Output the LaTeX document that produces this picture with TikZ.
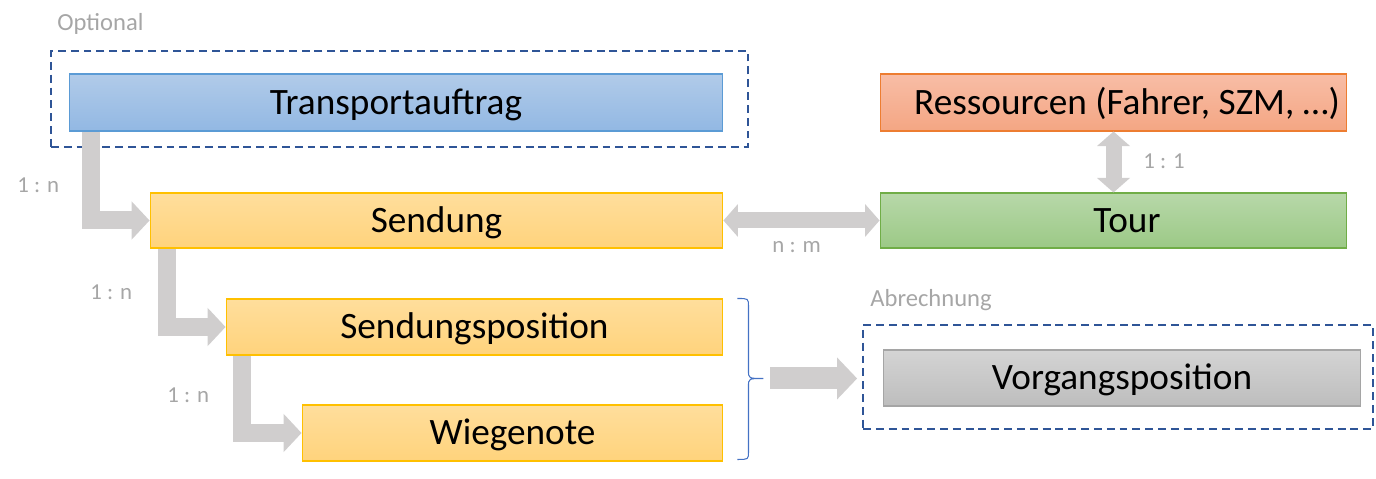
\documentclass[tikz,border=0pt]{standalone}
\usepackage{fontspec}
\setmainfont{Carlito}
\usetikzlibrary{arrows.meta}
\definecolor{blueTop}{HTML}{B1CBE9}
\definecolor{blueBot}{HTML}{92B8E3}
\definecolor{blueLine}{HTML}{5B9BD5}
\definecolor{orTop}{HTML}{F8BDA6}
\definecolor{orBot}{HTML}{F4A683}
\definecolor{orLine}{HTML}{ED7D31}
\definecolor{yeTop}{HTML}{FFDE9C}
\definecolor{yeBot}{HTML}{FFD37C}
\definecolor{yeLine}{HTML}{FFC000}
\definecolor{grTop}{HTML}{B7D8A9}
\definecolor{grBot}{HTML}{9CC986}
\definecolor{grLine}{HTML}{70AD47}
\definecolor{gyTop}{HTML}{D4D4D4}
\definecolor{gyBot}{HTML}{BDBDBD}
\definecolor{gyLine}{HTML}{A5A5A5}
\definecolor{dashLine}{HTML}{2F5597}
\definecolor{flowGray}{HTML}{D0CECE}
\definecolor{labelGray}{HTML}{A6A6A6}
\definecolor{braceBlue}{HTML}{4472C4}
\tikzset{
  entity/.style={rectangle,inner sep=0pt,line width=0.6pt,font=\fontsize{21.2}{24}\selectfont,text height=13.65pt,text depth=0pt},
  bluebox/.style={entity,top color=blueTop,bottom color=blueBot,draw=blueLine},
  orangebox/.style={entity,top color=orTop,bottom color=orBot,draw=orLine},
  yellowbox/.style={entity,top color=yeTop,bottom color=yeBot,draw=yeLine},
  greenbox/.style={entity,top color=grTop,bottom color=grBot,draw=grLine},
  graybox/.style={entity,top color=gyTop,bottom color=gyBot,draw=gyLine},
  groupbox/.style={rectangle,inner sep=0pt,draw=dashLine,line width=1.1pt,dash pattern=on 4.5pt off 2.8pt},
  grouplabel/.style={inner sep=0pt,anchor=base west,text=labelGray,font=\fontsize{14}{16}\selectfont},
  ratio/.style={inner sep=0pt,anchor=base west,text=labelGray,font=\fontsize{13}{15}\selectfont},
  flow/.style={draw=flowGray,line width=0.36cm,-{Triangle[width=0.77cm,length=0.36cm,line width=0pt]}},
  twoway/.style={draw=flowGray,line width=0.32cm,{Triangle[width=0.66cm,length=0.29cm,line width=0pt]}-{Triangle[width=0.66cm,length=0.29cm,line width=0pt]}},
  bigflow/.style={draw=flowGray,line width=0.44cm,-{Triangle[width=0.84cm,length=0.4cm,line width=0pt]}},
  bracestyle/.style={draw=braceBlue,line width=0.6pt}
}
\begin{document}
\begin{tikzpicture}[x=0.02cm,y=-0.02cm]
\useasboundingbox (0,0) rectangle (1376,479);
\node[groupbox,minimum width=13.94cm,minimum height=1.92cm] (opt) at (399.5,99) {};
\node[grouplabel] (optlabel) at (57,31) {Optional};
\node[groupbox,minimum width=10.2cm,minimum height=2.08cm] (abr) at (1118,377) {};
\node[grouplabel] (abrlabel) at (870,307) {Abrechnung};
\node[bluebox,minimum width=13.08cm,minimum height=1.14cm] (trans) at (396,102.5) {Transportauftrag};
\node[orangebox,minimum width=9.34cm,minimum height=1.14cm] (ress) at (1113.5,102.5) {\hspace*{.54cm}Ressourcen (Fahrer, SZM, …)};
\node[yellowbox,minimum width=11.46cm,minimum height=1.1cm] (send) at (436.5,220.5) {Sendung};
\node[greenbox,minimum width=9.34cm,minimum height=1.1cm] (tour) at (1113.5,220.5) {\hspace*{.54cm}Tour};
\node[yellowbox,minimum width=9.94cm,minimum height=1.12cm] (spos) at (474.5,327) {Sendungsposition};
\node[yellowbox,minimum width=8.42cm,minimum height=1.12cm] (wiege) at (512.5,433) {Wiegenote};
\node[graybox,minimum width=9.56cm,minimum height=1.12cm] (vorg) at (1122,378) {Vorgangsposition};
\draw[flow] ([xshift=.44cm]trans.south west) |- (send.west);
\draw[flow] ([xshift=.34cm]send.south west) |- (spos.west);
\draw[flow] ([xshift=.32cm]spos.south west) |- (wiege.west);
\draw[twoway] (send.east) -- (tour.west);
\draw[twoway] (ress.south) -- (tour.north);
\coordinate (bracetop) at ([xshift=.28cm]spos.north east);
\draw[bracestyle] (bracetop) .. controls +(11,0) .. ++(11,8) -- ++(0,64)
  .. controls +(0,8) .. ++(15,8) coordinate (bracetip)
  .. controls +(-15,0) .. ++(-15,8) -- ++(0,65) .. controls +(0,8) .. ++(-11,8);
\draw[bigflow] ([xshift=.14cm]bracetip) -- ([xshift=-.1cm]bracetip -| abr.west);
\node[ratio] (r1) at (17,193) {1 : n};
\node[ratio] (r2) at (90,300) {1 : n};
\node[ratio] (r3) at (167,402) {1 : n};
\node[ratio] (r4) at (772,253) {n : m};
\node[ratio] (r5) at (1143,169) {1 : 1};
\end{tikzpicture}
\end{document}
